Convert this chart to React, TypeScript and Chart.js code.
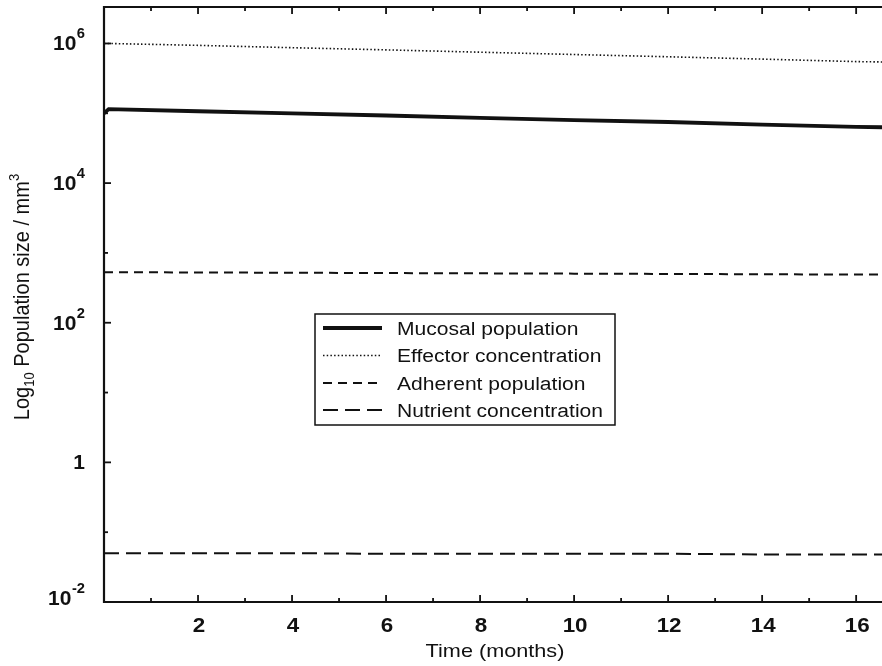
import React, { useEffect, useRef } from "react";
import { Chart, registerables } from "chart.js";

Chart.register(...registerables);

// ---- data ----
const months = [0, 0.1, 2, 4, 6, 8, 10, 12, 14, 16, 16.6];
const mucosal = [1.0e5, 1.15e5, 1.07e5, 1.0e5, 9.3e4, 8.6e4, 8.0e4, 7.5e4, 6.9e4, 6.4e4, 6.3e4];
const effector = [1.0e6, 1.0e6, 9.4e5, 8.7e5, 8.1e5, 7.5e5, 6.95e5, 6.45e5, 5.97e5, 5.5e5, 5.43e5];
const adherent = [530, 530, 525, 520, 515, 510, 505, 500, 495, 490, 490];
const nutrient = [0.05, 0.05, 0.05, 0.05, 0.049, 0.049, 0.049, 0.049, 0.048, 0.048, 0.048];

const seriesNames = [
  "Mucosal population",
  "Effector concentration",
  "Adherent population",
  "Nutrient concentration",
];

const xTickValues = [2, 4, 6, 8, 10, 12, 14, 16];
const xMinorTicks = [1, 3, 5, 7, 9, 11, 13, 15];
const yTickValues = [0.01, 1, 100, 1e4, 1e6];
const yTickBases = ["10", "1", "10", "10", "10"];
const yTickExps = ["-2", "", "2", "4", "6"];
const yMinorTicks = [0.1, 10, 1000, 1e5];

const xTitle = "Time (months)";
const yTitleParts = ["Log", "10", " Population size / mm", "3"];

const X_MIN = 0;
const X_MAX = 16.55;
const Y_MIN = 0.01;
const Y_MAX = 3.33e6;

const FONT = '"Liberation Sans", Arial, Helvetica, sans-serif';

const styles = [
  { width: 3.8, dash: [] as number[] },
  { width: 1.6, dash: [1.5, 2.2] },
  { width: 2, dash: [9, 6] },
  { width: 2, dash: [15, 7] },
];

function drawScaledText(
  ctx: CanvasRenderingContext2D,
  text: string,
  x: number,
  y: number,
  sx: number,
  align: "left" | "center" | "right"
) {
  const w = ctx.measureText(text).width * sx;
  let left = x;
  if (align === "center") left = x - w / 2;
  if (align === "right") left = x - w;
  ctx.save();
  ctx.translate(left, y);
  ctx.scale(sx, 1);
  ctx.textAlign = "left";
  ctx.fillText(text, 0, 0);
  ctx.restore();
}

const decorPlugin = {
  id: "decor",
  afterDraw(chart: any) {
    const ctx: CanvasRenderingContext2D = chart.ctx;
    const { left, right, top, bottom } = chart.chartArea;
    const xs = chart.scales.x;
    const ys = chart.scales.y;
    const ink = "#111";
    ctx.save();
    ctx.strokeStyle = ink;
    ctx.fillStyle = ink;
    ctx.setLineDash([]);

    // frame (left, bottom, top)
    ctx.lineWidth = 2.2;
    ctx.beginPath();
    ctx.moveTo(right, top);
    ctx.lineTo(left, top);
    ctx.lineTo(left, bottom);
    ctx.lineTo(right, bottom);
    ctx.stroke();

    // x ticks (inward, bottom and top)
    ctx.lineWidth = 1.8;
    const tickX = (v: number, len: number) => {
      const px = xs.getPixelForValue(v);
      ctx.beginPath();
      ctx.moveTo(px, bottom);
      ctx.lineTo(px, bottom - len);
      ctx.moveTo(px, top);
      ctx.lineTo(px, top + len);
      ctx.stroke();
    };
    xTickValues.forEach((v) => tickX(v, 7));
    xMinorTicks.forEach((v) => tickX(v, 4));

    // y ticks (inward)
    const tickY = (v: number, len: number) => {
      const py = ys.getPixelForValue(v);
      ctx.beginPath();
      ctx.moveTo(left, py);
      ctx.lineTo(left + len, py);
      ctx.stroke();
    };
    yTickValues.forEach((v) => tickY(v, 7));
    yMinorTicks.forEach((v) => tickY(v, 4));

    // x tick labels
    ctx.font = `bold 20px ${FONT}`;
    ctx.textBaseline = "alphabetic";
    xTickValues.forEach((v) => {
      drawScaledText(ctx, String(v), xs.getPixelForValue(v) + 1, 632, 1.12, "center");
    });

    // y tick labels with superscript exponents
    const labelRight = 85;
    yTickValues.forEach((v, i) => {
      let py = ys.getPixelForValue(v);
      py = Math.min(py, bottom - 4);
      ctx.font = `bold 14px ${FONT}`;
      const exp = yTickExps[i];
      const expW = exp ? ctx.measureText(exp).width * 1.05 : 0;
      if (exp) {
        drawScaledText(ctx, exp, labelRight - expW, py - 5, 1.05, "left");
      }
      ctx.font = `bold 20px ${FONT}`;
      drawScaledText(ctx, yTickBases[i], labelRight - expW - (exp ? 0.5 : 0), py + 7, 1.05, "right");
    });

    // x title
    ctx.font = `19px ${FONT}`;
    drawScaledText(ctx, xTitle, (left + right) / 2 + 2, 657, 1.14, "center");

    // y title (rotated, with sub/superscripts)
    const big = `20px ${FONT}`;
    const small = `13px ${FONT}`;
    const fonts = [big, small, big, small];
    const offs = [0, 4, 0, -9];
    const widths = yTitleParts.map((t, i) => {
      ctx.font = fonts[i];
      return ctx.measureText(t).width;
    });
    const total = widths.reduce((a, b) => a + b, 0);
    ctx.save();
    ctx.translate(22, 297);
    ctx.rotate(-Math.PI / 2);
    ctx.scale(1, 1.12);
    ctx.textAlign = "left";
    let cx = -total / 2;
    yTitleParts.forEach((t, i) => {
      ctx.font = fonts[i];
      ctx.fillText(t, cx, 6.5 + offs[i]);
      cx += widths[i];
    });
    ctx.restore();

    // legend
    const boxL = 315, boxT = 314, boxW = 300, boxH = 111;
    ctx.fillStyle = "#fff";
    ctx.fillRect(boxL, boxT, boxW, boxH);
    ctx.fillStyle = ink;
    ctx.lineWidth = 1.5;
    ctx.setLineDash([]);
    ctx.strokeRect(boxL, boxT, boxW, boxH);
    const rows = [328, 355.5, 383, 410];
    chart.data.datasets.forEach((ds: any, i: number) => {
      const y = rows[i];
      ctx.lineWidth = styles[i].width;
      ctx.setLineDash(styles[i].dash);
      ctx.beginPath();
      ctx.moveTo(323, y);
      ctx.lineTo(382, y);
      ctx.stroke();
      ctx.setLineDash([]);
      ctx.font = `18px ${FONT}`;
      ctx.textBaseline = "alphabetic";
      drawScaledText(ctx, ds.label, 397, y + 6.5, 1.17, "left");
    });

    ctx.restore();
  },
};

export default function App() {
  const ref = useRef<HTMLCanvasElement | null>(null);

  useEffect(() => {
    if (!ref.current) return;
    const series = [mucosal, effector, adherent, nutrient];
    const chart = new Chart(ref.current, {
      type: "line",
      data: {
        datasets: series.map((vals, i) => ({
          label: seriesNames[i],
          data: months.map((m, j) => ({ x: m, y: vals[j] })),
          borderColor: "#111",
          backgroundColor: "#111",
          borderWidth: styles[i].width,
          borderDash: styles[i].dash,
          pointRadius: 0,
          tension: 0,
          fill: false,
        })),
      },
      options: {
        responsive: false,
        animation: false,
        devicePixelRatio: 1,
        layout: { padding: { left: 104, top: 7, right: 0, bottom: 64 } },
        plugins: {
          legend: { display: false },
          tooltip: { enabled: false },
          title: { display: false },
        },
        scales: {
          x: { type: "linear", display: false, min: X_MIN, max: X_MAX },
          y: { type: "logarithmic", display: false, min: Y_MIN, max: Y_MAX },
        },
      },
      plugins: [decorPlugin],
    });
    return () => chart.destroy();
  }, []);

  return (
    <div
      style={{
        position: "fixed",
        left: 0,
        top: 0,
        width: 882,
        height: 666,
        background: "#fff",
      }}
    >
      <canvas ref={ref} width={882} height={666} style={{ display: "block" }} />
    </div>
  );
}
